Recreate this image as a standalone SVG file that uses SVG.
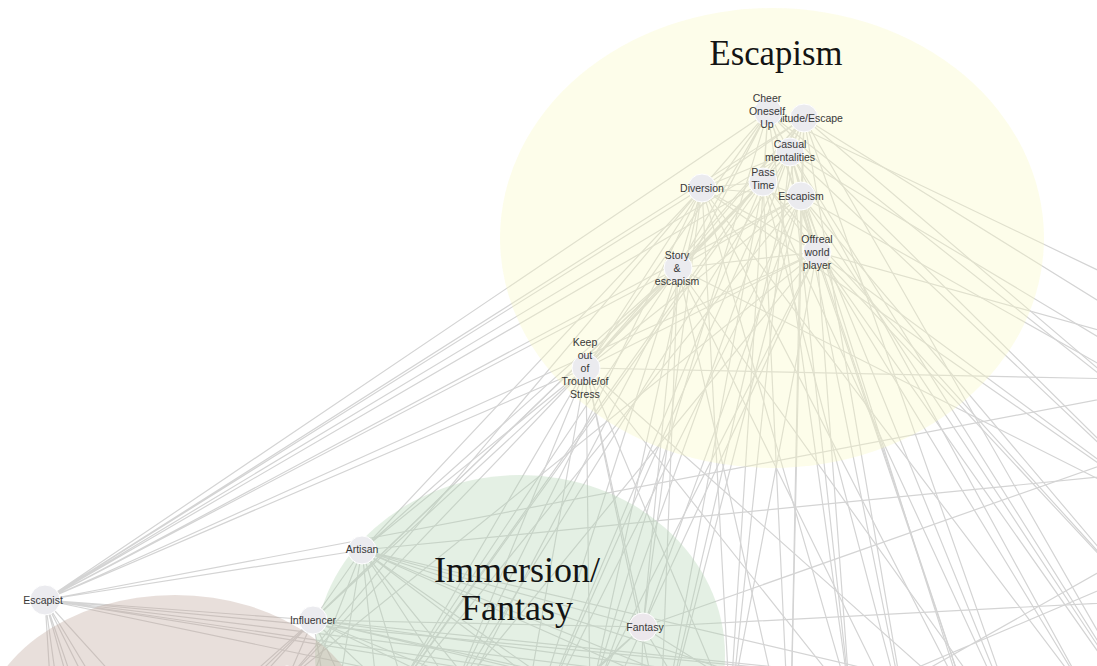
<svg xmlns="http://www.w3.org/2000/svg" width="1097" height="666" viewBox="0 0 1097 666">
  <style>
    .edge { fill: none; stroke: #d4d4d4; stroke-width: 1.2; }
    .cluster { stroke: none; opacity: 0.35; }
    .title { font-family: "Liberation Serif", "DejaVu Serif", serif; font-size: 36px; fill: #141414; text-anchor: middle; }
    .node circle { fill: #ebebef; stroke: #ffffff; stroke-width: 1; }
    .node text { font-family: "Liberation Sans", Arial, sans-serif; font-size: 10.5px; fill: #383838; text-anchor: middle; }
  </style>
  <rect width="1097" height="666" fill="#ffffff"/>

  <!-- connectors -->
  <g id="edges" class="edge">
    <!-- Escapist -->
    <path d="M45 600L362 550M45 600L313 620M45 600L768 112M45 600L804 118M45 600L790 152M45 600L763 182M45 600L702 188M45 600L801 196M45 600L817 252M45 600L678 268M45 600L586 368M45 600L1170 386
             M45 600L55 760M45 600L70 780M45 600L90 760M45 600L110 790M45 600L125 760M45 600L160 790M45 600L190 760
             M45 600L1000 690M45 600L860 700M45 600L720 700M45 600L600 690M45 600L520 700"/>
    <!-- Artisan -->
    <path d="M362 550L586 368M362 550L678 268M362 550L702 188M362 550L643 627M362 550L313 620
             M362 550L380 720M362 550L420 740M362 550L460 700M362 550L500 720M362 550L560 700M362 550L620 730M362 550L700 700M362 550L780 720M362 550L880 720M362 550L1000 700M362 550L330 740M362 550L280 760M362 550L1170 470"/>
    <!-- Influencer -->
    <path d="M313 620L200 720M313 620L240 700M313 620L287 680M313 620L330 720M313 620L370 740M313 620L420 720M313 620L480 700M313 620L560 720M313 620L650 700M313 620L760 720M313 620L900 700M313 620L1100 700
             M313 620L586 368M313 620L678 268M313 620L643 627"/>
    <!-- Fantasy -->
    <path d="M643 627L586 368M643 627L678 268M643 627L702 188M643 627L817 252M643 627L801 196M643 627L1170 441M643 627L1160 600
             M643 627L600 720M643 627L640 740M643 627L700 720M643 627L760 700M643 627L560 700M643 627L520 740"/>
    <!-- Cheer Oneself Up -->
    <path d="M768 112L702 188M768 112L678 268M768 112L586 368M768 112L763 182M768 112L790 152M768 112L817 252
             M768 112L450 720M768 112L590 700M768 112L730 710M768 112L850 700M768 112L970 710M768 112L1090 700M768 112L1170 430M768 112L1180 520M768 112L1160 300"/>
    <!-- Solitude/Escape -->
    <path d="M804 118L702 188M804 118L678 268M804 118L586 368M804 118L790 152M804 118L801 196M804 118L763 182
             M804 118L370 730M804 118L520 760M804 118L660 740M804 118L790 760M804 118L910 740M804 118L1030 760M804 118L1150 333M804 118L1170 430M804 118L1160 740"/>
    <!-- Casual mentalities -->
    <path d="M790 152L702 188M790 152L678 268M790 152L586 368M790 152L817 252
             M790 152L450 700M790 152L590 710M790 152L730 720M790 152L850 700M790 152L970 720M790 152L1180 520M790 152L1160 740M790 152L1170 380"/>
    <!-- Pass Time -->
    <path d="M763 182L702 188M763 182L678 268M763 182L586 368M763 182L817 252M763 182L801 196
             M763 182L370 730M763 182L520 760M763 182L660 740M763 182L790 760M763 182L910 740M763 182L1030 760M763 182L1160 620"/>
    <!-- Diversion -->
    <path d="M702 188L678 268M702 188L586 368M702 188L801 196M702 188L817 252
             M702 188L287 680M702 188L450 700M702 188L590 700M702 188L730 710M702 188L850 700M702 188L970 710M702 188L1090 700M702 188L1180 520"/>
    <!-- Escapism -->
    <path d="M801 196L678 268M801 196L586 368M801 196L817 252
             M801 196L370 730M801 196L520 760M801 196L660 740M801 196L790 760M801 196L910 740M801 196L1030 760M801 196L1160 740M801 196L1170 404M801 196L1160 620"/>
    <!-- Offreal world player -->
    <path d="M817 252L678 268M817 252L586 368
             M817 252L287 680M817 252L450 700M817 252L590 700M817 252L730 710M817 252L850 700M817 252L970 710M817 252L1090 700M817 252L1160 740M817 252L1160 620M817 252L1180 520M817 252L1170 350"/>
    <!-- Story & escapism -->
    <path d="M678 268L586 368
             M678 268L210 720M678 268L370 730M678 268L520 760M678 268L660 740M678 268L790 760M678 268L910 740M678 268L1030 760M678 268L1180 520"/>
    <!-- Keep out of Trouble/of Stress -->
    <path d="M586 368L287 680M586 368L380 720M586 368L450 700M586 368L520 740M586 368L590 700M586 368L660 720M586 368L730 710M586 368L850 700M586 368L970 710M586 368L1170 380"/>
    <!-- links between nodes below the frame -->
    <path d="M880 696L1170 532M700 760L1170 560"/>
  </g>

  <!-- community areas -->
  <g id="areas">
    <ellipse class="cluster" cx="772" cy="238" rx="272" ry="230" fill="#f9f9c3"/>
    <ellipse class="cluster" cx="520" cy="655" rx="205" ry="180" fill="#b2d4b2"/>
    <ellipse class="cluster" cx="175" cy="740" rx="195" ry="145" fill="#bda498"/>
  </g>

  <!-- community titles -->
  <g id="titles">
    <text class="title" x="776" y="65" textLength="133" lengthAdjust="spacingAndGlyphs">Escapism</text>
    <text class="title" x="517" y="582">Immersion/</text>
    <text class="title" x="517" y="620">Fantasy</text>
  </g>

  <!-- nodes -->
  <g id="node-partial" class="node"><circle cx="287" cy="680" r="14"/></g>
  <g id="node-escapist" class="node"><circle cx="45" cy="600" r="15"/><text x="43" y="604">Escapist</text></g>
  <g id="node-artisan" class="node"><circle cx="362" cy="550" r="14"/><text x="362" y="553">Artisan</text></g>
  <g id="node-influencer" class="node"><circle cx="313" cy="620" r="14"/><text x="313" y="624">Influencer</text></g>
  <g id="node-fantasy" class="node"><circle cx="643" cy="627" r="14" style="fill:#ece7ec"/><text x="645" y="631">Fantasy</text></g>
  <g id="node-keep-out" class="node"><circle cx="586" cy="368" r="14"/>
    <text x="585" y="346">Keep</text><text x="585" y="359">out</text><text x="585" y="372">of</text><text x="585" y="385">Trouble/of</text><text x="585" y="398">Stress</text></g>
  <g id="node-story" class="node"><circle cx="678" cy="268" r="14"/>
    <text x="677" y="259">Story</text><text x="677" y="272">&amp;</text><text x="677" y="285">escapism</text></g>
  <g id="node-offreal" class="node"><circle cx="817" cy="252" r="14"/>
    <text x="817" y="243">Offreal</text><text x="817" y="256">world</text><text x="817" y="269">player</text></g>
  <g id="node-diversion" class="node"><circle cx="702" cy="188" r="14"/><text x="702" y="192">Diversion</text></g>
  <g id="node-escapism" class="node"><circle cx="801" cy="196" r="14"/><text x="801" y="200">Escapism</text></g>
  <g id="node-pass-time" class="node"><circle cx="763" cy="182" r="14"/>
    <text x="763" y="176">Pass</text><text x="763" y="189">Time</text></g>
  <g id="node-casual" class="node"><circle cx="790" cy="152" r="14"/>
    <text x="790" y="148">Casual</text><text x="790" y="161">mentalities</text></g>
  <g id="node-solitude" class="node"><circle cx="804" cy="118" r="14"/><text x="805" y="122">Solitude/Escape</text></g>
  <g id="node-cheer" class="node"><circle cx="768" cy="112" r="14"/>
    <text x="767" y="102">Cheer</text><text x="767" y="115">Oneself</text><text x="767" y="128">Up</text></g>
</svg>
